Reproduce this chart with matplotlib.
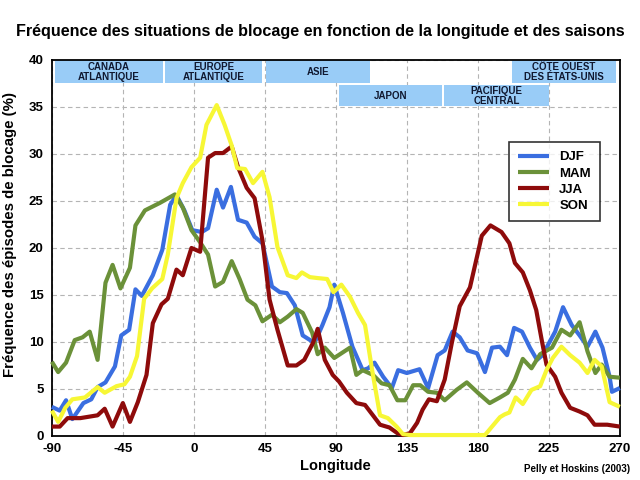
import matplotlib
matplotlib.use("Agg")
import matplotlib.pyplot as plt
from matplotlib.patches import Rectangle

plt.rcParams['font.family'] = ['Liberation Sans', 'DejaVu Sans']
plt.rcParams['axes.unicode_minus'] = False

# ---- data ----
lon_djf = [-90, -85, -81, -77, -70, -65, -61, -56, -50, -46, -41, -37, -33, -26, -20, -15, -11, -6, -1, 5, 9,
           14.5, 18.5, 23.5, 28, 33.5, 38.5, 43.5, 49.5, 54.5, 59, 64, 69, 76.5, 81.5, 86, 89, 94.5, 100.5,
           107, 110.5, 114.5, 120, 125.5, 129.5, 135, 143, 148.5, 154.5, 159, 164, 168.5, 173.5, 179.5, 184.5,
           189, 194, 198.5, 203, 208, 213, 217.5, 221, 224.5, 229, 234, 239.5, 244.5, 249.5, 254.5, 259, 263.5,
           265, 270]
djf = [3.1, 2.7, 3.8, 1.8, 3.5, 3.9, 5.2, 5.7, 7.4, 10.7, 11.3, 15.6, 14.9, 17.1, 19.8, 24.6, 25.6, 24.0, 21.9,
       21.7, 22.1, 26.2, 24.3, 26.5, 23.0, 22.7, 21.2, 20.5, 15.9, 15.3, 15.2, 13.9, 10.7, 9.9, 11.8, 13.7, 16.1,
       13.1, 9.5, 7.0, 7.2, 7.8, 6.3, 5.1, 7.0, 6.7, 7.1, 5.1, 8.6, 9.1, 11.1, 10.5, 9.1, 8.8, 6.8, 9.4, 9.5,
       8.6, 11.5, 11.1, 9.4, 8.1, 8.6, 9.7, 11.1, 13.7, 11.8, 10.7, 9.5, 11.1, 9.4, 6.3, 4.7, 5.1]

lon_mam = [-90, -86, -81, -75.5, -70.5, -66, -61, -56, -51.5, -46.5, -40.5, -37, -31, -21.5, -12, -7, -1.5, 4, 9,
           13.5, 18.5, 24, 29, 34, 39, 43.5, 49.5, 54.5, 59.5, 65, 69, 75, 78.5, 83, 89, 99, 103, 107, 113.5,
           119, 124, 129, 134, 139, 143.5, 148.5, 154, 159, 166.5, 173, 180, 187.5, 194, 199, 203.5, 208.5,
           214, 219.5, 227, 233, 238.5, 244.5, 249.5, 254.5, 258.5, 263.5, 270]
mam = [7.9, 6.8, 7.8, 10.2, 10.5, 11.1, 8.1, 16.3, 18.2, 15.7, 17.9, 22.4, 24.0, 24.8, 25.7, 24.3, 21.9, 20.6,
       19.3, 15.9, 16.4, 18.6, 16.7, 14.5, 13.9, 12.2, 12.9, 12.1, 12.7, 13.5, 13.1, 11.0, 8.7, 9.4, 8.3, 9.4,
       6.5, 7.0, 6.5, 5.6, 5.4, 3.8, 3.8, 5.4, 5.4, 4.7, 4.6, 3.8, 4.9, 5.7, 4.6, 3.5, 4.1, 4.6, 6.0, 8.2,
       7.2, 8.7, 9.4, 11.3, 10.7, 12.1, 9.0, 6.7, 7.6, 6.3, 6.2]

lon_jja = [-90, -85, -80, -72, -61, -56.5, -51.5, -45, -40.5, -35.5, -30, -26, -20.5, -16.5, -11, -7, -1.5, 4,
           9, 13.5, 18.5, 24, 28, 33.5, 38.5, 43.5, 48, 53, 59.5, 65, 70, 75.5, 78.5, 83, 88, 92, 97, 103,
           108.5, 113.5, 118, 124, 129, 132.5, 137, 141.5, 145, 149, 154, 159, 163.5, 168.5, 175, 178, 182.5,
           188, 195, 200, 203.5, 208.5, 213, 217, 220.5, 223.5, 229, 233, 238.5, 244.5, 249.5, 254, 262, 270]
jja = [1.0, 1.0, 1.9, 1.9, 2.2, 2.9, 1.0, 3.5, 1.5, 3.6, 6.5, 12.0, 14.0, 14.6, 17.7, 17.1, 20.0, 19.6, 29.6,
       30.1, 30.1, 30.8, 28.6, 26.4, 25.3, 20.8, 14.5, 11.3, 7.5, 7.5, 8.1, 9.9, 11.4, 8.1, 6.5, 5.8, 4.6,
       3.5, 3.3, 2.2, 1.2, 0.9, 0.3, 0.1, 0.3, 1.4, 2.8, 3.9, 3.7, 6.0, 9.9, 13.8, 15.8, 18.0, 21.3, 22.4,
       21.7, 20.5, 18.4, 17.4, 15.5, 13.4, 10.2, 7.6, 6.3, 4.6, 3.0, 2.6, 2.2, 1.2, 1.2, 1.0]

lon_son = [-90, -86, -81.5, -77, -69, -61, -56.5, -49, -44, -40.5, -36, -31.5, -26.5, -20, -16.5, -11, -7, -1.5,
           4, 8, 14.5, 19.5, 24, 27.5, 32.5, 37.5, 43.5, 48, 53, 59.5, 65, 68.5, 73.5, 78.5, 84.5, 88.5, 93.5,
           99, 104, 108.5, 113, 118, 123, 128.5, 132.5, 137, 184.5, 194, 197, 200, 204, 208.5, 214, 219.5,
           223.5, 227.5, 233, 238.5, 244.5, 249.5, 254, 258.5, 263.5, 270]
son = [2.7, 1.5, 3.0, 3.9, 4.1, 5.2, 4.6, 5.3, 5.5, 6.3, 8.5, 14.6, 15.7, 16.7, 19.3, 25.3, 26.9, 28.6, 29.6,
       33.1, 35.2, 33.1, 30.9, 28.5, 28.4, 26.9, 28.1, 25.4, 20.1, 17.1, 16.8, 17.4, 16.9, 16.8, 16.7, 15.3,
       16.1, 14.8, 13.1, 11.8, 7.0, 2.2, 1.9, 1.0, 0.2, 0.1, 0.1, 2.0, 2.3, 2.5, 4.1, 3.4, 4.9, 5.3, 7.0,
       8.3, 9.5, 8.6, 7.8, 6.7, 8.1, 7.4, 3.6, 3.1]

series_names = ['DJF', 'MAM', 'JJA', 'SON']
series_colors = ['#3a6ee0', '#6b9139', '#8e0b0b', '#f7f735']

x_ticks = [-90, -45, 0, 45, 90, 135, 180, 225, 270]
y_ticks = [0, 5, 10, 15, 20, 25, 30, 35, 40]

# regions: (label, lon start, lon end, row)
region_labels = ['CANADA\nATLANTIQUE', 'EUROPE\nATLANTIQUE', 'ASIE', 'JAPON', 'PACIFIQUE\nCENTRAL',
                 'CÔTE OUEST\nDES ÉTATS-UNIS']
region_start = [-88, -18, 45.5, 92, 158.5, 201.5]
region_end = [-19.5, 43.5, 111.5, 157.5, 225, 267.5]
region_row = [0, 0, 0, 1, 1, 0]

# ---- figure ----
fig = plt.figure(figsize=(6.4, 4.8), dpi=100)
ax = fig.add_axes([0.081, 0.0917, 0.8875, 0.7833])

ax.set_xlim(-90, 270)
ax.set_ylim(0, 40)
ax.set_xticks(x_ticks)
ax.set_yticks(y_ticks)
ax.tick_params(axis='both', length=0, labelsize=9.5)
ax.tick_params(axis='x', pad=5)
ax.tick_params(axis='y', pad=6)
for lab in ax.get_xticklabels() + ax.get_yticklabels():
    lab.set_fontweight('bold')
ax.grid(True, color='#b4b4b4', linestyle=(0, (4, 3)), linewidth=0.8)
ax.set_axisbelow(True)
for sp in ax.spines.values():
    sp.set_linewidth(1.3)
    sp.set_color('black')

row_y = [(37.5, 39.95), (35.1, 37.3)]
for lab, s, e, r in zip(region_labels, region_start, region_end, region_row):
    y0, y1 = row_y[r]
    ax.add_patch(Rectangle((s, y0), e - s, y1 - y0, facecolor='#99ccf7', edgecolor='none', zorder=2))
    ax.text((s + e) / 2, (y0 + y1) / 2, lab, ha='center', va='center', fontsize=7, fontweight='bold',
            color='#101830', linespacing=0.95, zorder=3)

data = [(lon_djf, djf), (lon_mam, mam), (lon_jja, jja), (lon_son, son)]
for (xs, ys), name, col in zip(data, series_names, series_colors):
    ax.plot(xs, ys, color=col, linewidth=3, label=name, zorder=4, clip_on=False,
            solid_joinstyle='round', solid_capstyle='butt')

leg = ax.legend(loc='upper left', bbox_to_anchor=(0.805, 0.782), frameon=True, fancybox=False,
                edgecolor='black', prop={'weight': 'bold', 'size': 9.5}, handlelength=2.3,
                handletextpad=0.8, borderpad=0.7, labelspacing=0.3, borderaxespad=0)
leg.get_frame().set_linewidth(1.2)
leg.set_zorder(5)

ax.set_xlabel('Longitude', fontsize=10.5, fontweight='bold', labelpad=3)
ax.set_ylabel('Fréquence des épisodes de blocage (%)', fontsize=10.8, fontweight='bold', labelpad=6)
ax.yaxis.set_label_coords(-0.062, 0.535)
fig.text(0.5, 0.935, 'Fréquence des situations de blocage en fonction de la longitude et des saisons',
         ha='center', va='center', fontsize=11.6, fontweight='bold')
fig.text(0.985, 0.012, 'Pelly et Hoskins (2003)', ha='right', va='bottom', fontsize=7, fontweight='bold')

fig.savefig('out.png', dpi=100)
